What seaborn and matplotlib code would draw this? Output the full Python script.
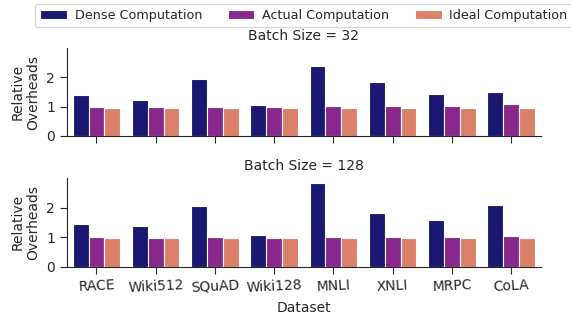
import pandas as pd
import seaborn as sns
from matplotlib import pyplot as plt

datasets = ['RACE', 'Wiki512', 'SQuAD', 'Wiki128', 'MNLI', 'XNLI', 'MRPC', 'CoLA']
methods = ['Dense Computation', 'Actual Computation', 'Ideal Computation']

# batch size 32
dense_32 = [1.40, 1.23, 1.95, 1.05, 2.40, 1.83, 1.43, 1.50]
actual_32 = [1.00, 0.98, 1.00, 0.98, 1.02, 1.02, 1.03, 1.10]
ideal_32 = [0.97, 0.97, 0.97, 0.97, 0.97, 0.97, 0.97, 0.97]

# batch size 128
dense_128 = [1.45, 1.38, 2.07, 1.07, 2.83, 1.82, 1.58, 2.08]
actual_128 = [1.00, 0.98, 1.00, 0.98, 1.01, 1.00, 1.01, 1.05]
ideal_128 = [0.97, 0.97, 0.97, 0.97, 0.97, 0.97, 0.97, 0.97]

colors = ['#1b1874', '#88288c', '#dc806a']


def make_df(dense, actual, ideal):
    rows = []
    for name, vals in zip(methods, (dense, actual, ideal)):
        for d, v in zip(datasets, vals):
            rows.append({'Dataset': d, 'Method': name, 'Overhead': v})
    return pd.DataFrame(rows)


sns.set_style('ticks')
plt.rcParams['font.family'] = ['DejaVu Sans']
plt.rcParams['font.size'] = 10

fig = plt.figure(figsize=(5.71, 3.17), dpi=100)
ax1 = fig.add_axes([0.117, 0.571, 0.830, 0.277])
ax2 = fig.add_axes([0.117, 0.159, 0.830, 0.279])

panels = [(ax1, make_df(dense_32, actual_32, ideal_32), 'Batch Size = 32'),
          (ax2, make_df(dense_128, actual_128, ideal_128), 'Batch Size = 128')]

for ax, df, title in panels:
    sns.barplot(data=df, x='Dataset', y='Overhead', hue='Method',
                palette=colors, edgecolor='white', linewidth=0.8,
                saturation=1, ax=ax)
    ax.set_ylim(0, 3)
    ax.set_yticks([0, 1, 2])
    ax.set_xlim(-0.5, 7.5)
    ax.set_title(title, fontsize=10)
    ax.set_ylabel('Relative\nOverheads', fontsize=10)
    ax.tick_params(labelsize=10, length=5)
    ax.get_legend().remove()
    sns.despine(ax=ax)

ax1.set_xlabel('')
ax1.set_xticklabels([])
ax2.set_xlabel('Dataset', fontsize=10)
for lbl in ax2.get_xticklabels():
    lbl.set_rotation(3)

handles, labels = ax1.get_legend_handles_labels()
fig.legend(handles, labels, ncol=3, loc='upper center',
           bbox_to_anchor=(0.532, 1.0), fontsize=9.2, frameon=True,
           handlelength=2.1, handletextpad=0.6, columnspacing=2.0,
           borderaxespad=0.3)

plt.savefig('out.png', dpi=100)
